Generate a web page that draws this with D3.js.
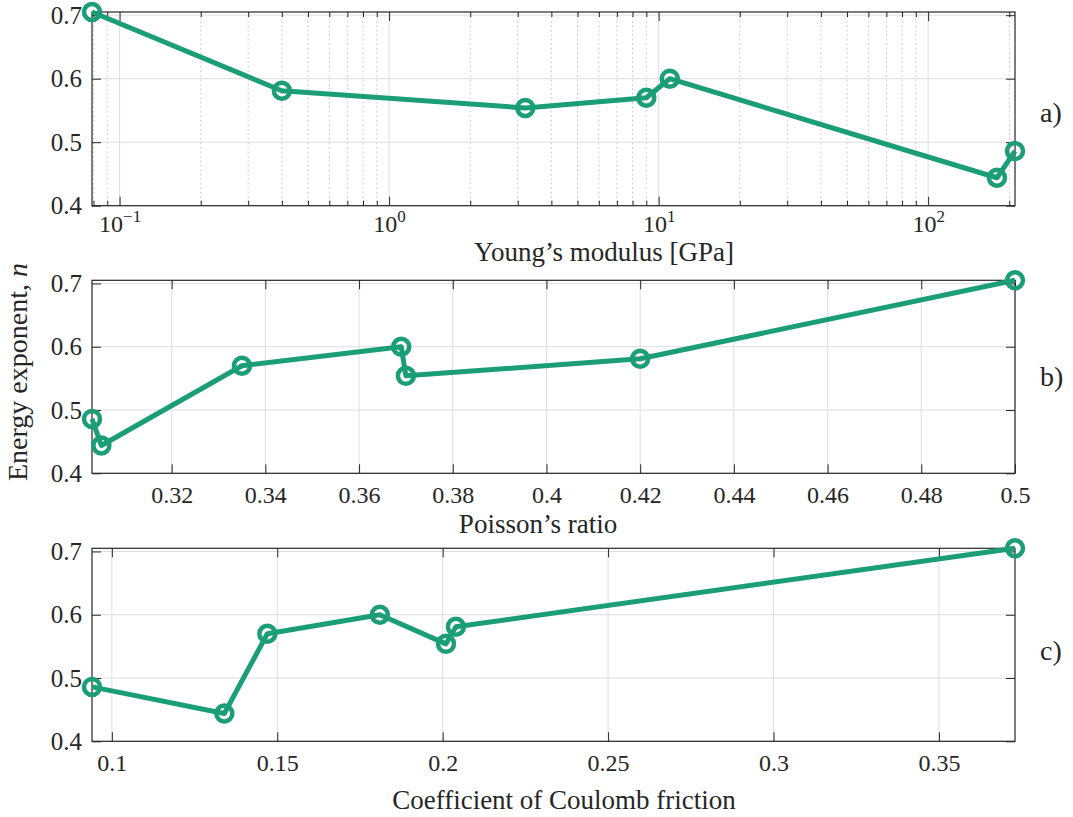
<!DOCTYPE html>
<html><head><meta charset="utf-8">
<script src="https://cdn.jsdelivr.net/npm/d3@7"></script>
<style>
body{margin:0;background:#fff}
svg{display:block}
svg text{font-family:'Liberation Serif','DejaVu Serif','Noto Serif',serif !important;fill:#262626}
</style>
</head><body><svg id="chart" width="1073" height="817" font-family="Liberation Serif, DejaVu Serif, serif"></svg>
<script>
// ---- data ----
const youngsModulus   = [0.079, 0.4, 3.2, 9, 11, 180, 210];
const energyByModulus = [0.705, 0.581, 0.554, 0.57, 0.6, 0.444, 0.486];
const poissonRatio    = [0.303, 0.305, 0.335, 0.369, 0.37, 0.42, 0.5];
const energyByPoisson = [0.486, 0.444, 0.57, 0.6, 0.554, 0.581, 0.705];
const coulombFriction = [0.094, 0.134, 0.147, 0.181, 0.201, 0.204, 0.373];
const energyByFriction= [0.486, 0.444, 0.57, 0.6, 0.554, 0.581, 0.705];
const energyTicks  = [0.4, 0.5, 0.6, 0.7];
const modulusTicks = [0.1, 1, 10, 100];
const modulusExps  = ["\u22121", "0", "1", "2"];
const poissonTicks = [0.32, 0.34, 0.36, 0.38, 0.4, 0.42, 0.44, 0.46, 0.48, 0.5];
const frictionTicks= [0.1, 0.15, 0.2, 0.25, 0.3, 0.35];
const xLabels   = ["Young\u2019s modulus [GPa]", "Poisson\u2019s ratio", "Coefficient of Coulomb friction"];
const panelTags = ["a)", "b)", "c)"];

// ---- layout ----
const FONT = "Liberation Serif, DejaVu Serif, serif";
const svg = d3.select("#chart");
const L = 92, R = 1015;
const panels = [
  {top: 12,    bottom: 205.7, xs: youngsModulus,   ys: energyByModulus,  log: true,  ticks: modulusTicks,  labelX: 604, labelY: 261, tagY: 122},
  {top: 280.3, bottom: 473.3, xs: poissonRatio,    ys: energyByPoisson,  log: false, ticks: poissonTicks,  labelX: 538, labelY: 533, tagY: 386},
  {top: 548.3, bottom: 741.3, xs: coulombFriction, ys: energyByFriction, log: false, ticks: frictionTicks, labelX: 564, labelY: 809, tagY: 660}
];
const green = "#1b9e77";
const axisCol = "#262626";
const gridCol = "#dedede";
const minorCol = "#c4c4c4";
const fmt = v => String(+v.toFixed(3));

panels.forEach((p, i) => {
  const x = (p.log ? d3.scaleLog() : d3.scaleLinear()).domain(d3.extent(p.xs)).range([L, R]);
  const y = d3.scaleLinear().domain([0.4, d3.max(p.ys)]).range([p.bottom, p.top]);
  const h = p.bottom - p.top;
  const g = svg.append("g");

  let minor = [];
  if (p.log) {
    minor = x.ticks().filter(t => !modulusTicks.some(m => Math.abs(m - t) / m < 1e-9));
    g.append("g").selectAll("line").data(minor).join("line")
      .attr("x1", d => x(d)).attr("x2", d => x(d)).attr("y1", p.top).attr("y2", p.bottom)
      .attr("stroke", minorCol).attr("stroke-width", 1).attr("stroke-dasharray", "1.5,3");
  }
  g.append("g").selectAll("line").data(p.ticks.filter(t => t >= x.domain()[0] && t <= x.domain()[1])).join("line")
    .attr("x1", d => x(d)).attr("x2", d => x(d)).attr("y1", p.top).attr("y2", p.bottom)
    .attr("stroke", gridCol).attr("stroke-width", 1);
  g.append("g").selectAll("line").data(energyTicks).join("line")
    .attr("y1", d => y(d)).attr("y2", d => y(d)).attr("x1", L).attr("x2", R)
    .attr("stroke", gridCol).attr("stroke-width", 1);

  const tickStyle = sel => { sel.attr("font-family", FONT); sel.select(".domain").remove(); sel.selectAll("line").attr("stroke", axisCol); };
  const bottom = g.append("g").attr("transform", `translate(0,${p.bottom})`)
    .call(d3.axisBottom(x).tickValues(p.ticks).tickSizeInner(-9).tickSizeOuter(0).tickPadding(p.log ? 11 : 13).tickFormat(fmt))
    .call(tickStyle);
  bottom.selectAll("text").attr("font-size", 24).attr("fill", axisCol);
  if (p.log) {
    bottom.selectAll("text").attr("dy", "0.62em").each(function(d, k) {
      const t = d3.select(this).text("");
      t.append("tspan").text("10");
      t.append("tspan").attr("font-size", 17).attr("dy", "-0.55em").text(modulusExps[k]);
    });
  }
  g.append("g").attr("transform", `translate(0,${p.top})`)
    .call(d3.axisTop(x).tickValues(p.ticks).tickSizeInner(-9).tickSizeOuter(0).tickFormat(""))
    .call(tickStyle);
  if (p.log) {
    g.append("g").attr("transform", `translate(0,${p.bottom})`)
      .call(d3.axisBottom(x).tickValues(minor).tickSizeInner(-5).tickSizeOuter(0).tickFormat(""))
      .call(tickStyle);
    g.append("g").attr("transform", `translate(0,${p.top})`)
      .call(d3.axisTop(x).tickValues(minor).tickSizeInner(-5).tickSizeOuter(0).tickFormat(""))
      .call(tickStyle);
  }
  const left = g.append("g").attr("transform", `translate(${L},0)`)
    .call(d3.axisLeft(y).tickValues(energyTicks).tickSizeInner(-9).tickSizeOuter(0).tickPadding(10).tickFormat(fmt))
    .call(tickStyle);
  left.selectAll("text").attr("font-size", 25).attr("fill", axisCol);
  g.append("g").attr("transform", `translate(${R},0)`)
    .call(d3.axisRight(y).tickValues(energyTicks).tickSizeInner(-9).tickSizeOuter(0).tickFormat(""))
    .call(tickStyle);

  g.append("rect").attr("x", L).attr("y", p.top).attr("width", R - L).attr("height", h)
    .attr("fill", "none").attr("stroke", axisCol).attr("stroke-width", 1.2);

  const pts = p.xs.map((v, k) => [v, p.ys[k]]);
  g.append("path").datum(pts)
    .attr("d", d3.line().x(d => x(d[0])).y(d => y(d[1])))
    .attr("fill", "none").attr("stroke", green).attr("stroke-width", 5).attr("stroke-linejoin", "round");
  g.append("g").selectAll("circle").data(pts).join("circle")
    .attr("cx", d => x(d[0])).attr("cy", d => y(d[1])).attr("r", 8)
    .attr("fill", "none").attr("stroke", green).attr("stroke-width", 4.5);

  g.append("text").attr("x", p.labelX).attr("y", p.labelY).attr("text-anchor", "middle")
    .attr("font-family", FONT).attr("font-size", 27).text(xLabels[i]);
  g.append("text").attr("x", 1040).attr("y", p.tagY).attr("font-family", FONT).attr("font-size", 28).text(panelTags[i]);
});

const yl = svg.append("text").attr("transform", "translate(27,372) rotate(-90)")
  .attr("text-anchor", "middle").attr("font-family", FONT).attr("font-size", 28);
yl.append("tspan").text("Energy exponent, ");
yl.append("tspan").attr("font-style", "italic").text("n");
</script>
</body></html>
